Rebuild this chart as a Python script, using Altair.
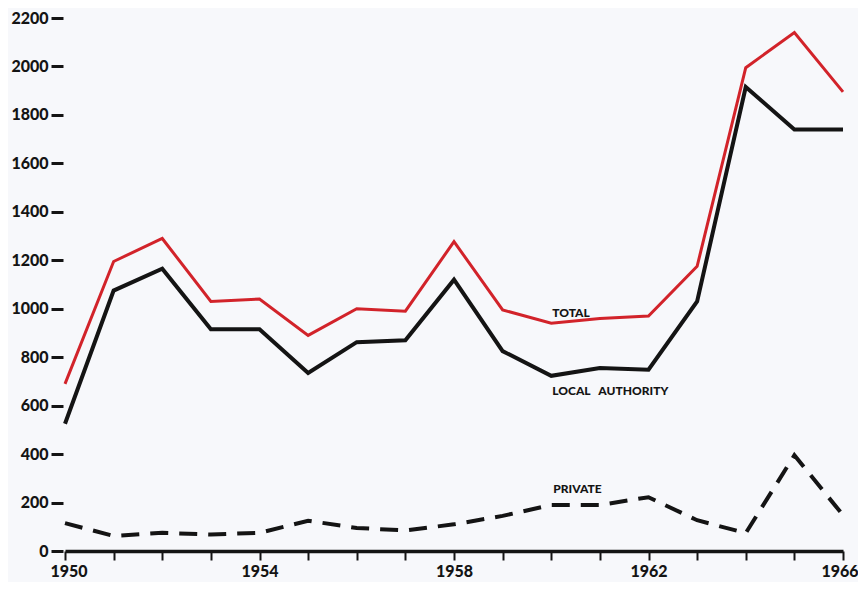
import altair as alt
import pandas as pd

years = list(range(1950, 1967))
total = [690, 1195, 1290, 1030, 1040, 890, 1000, 990, 1277, 995, 940, 960, 970, 1175, 1995, 2140, 1895]
local_authority = [525, 1075, 1165, 915, 915, 735, 862, 870, 1120, 825, 723, 755, 748, 1030, 1915, 1740, 1740]
private = [115, 62, 75, 68, 75, 125, 95, 85, 110, 145, 190, 190, 222, 127, 74, 395, 148]
y_ticks = list(range(0, 2201, 200))

df = pd.DataFrame({"year": years, "total": total, "local": local_authority, "private": private})

FONT = "Lato"
INK = "#141414"
RED = "#d2232a"

x_enc = alt.X(
    "year:Q",
    scale=alt.Scale(domain=[1950, 1966], nice=False, zero=False),
    axis=alt.Axis(
        values=years, title=None, grid=False, format="d",
        labelExpr="datum.value % 4 == 2 ? datum.label : ''",
        domainColor=INK, domainWidth=3.5, tickColor=INK, tickWidth=2, tickSize=9,
        labelFont=FONT, labelFontWeight=900, labelFontSize=16, labelPadding=3,
        labelColor=INK, labelFlush=True, labelFlushOffset=15,
    ),
)

def y_enc(field):
    return alt.Y(
        f"{field}:Q",
        scale=alt.Scale(domain=[0, 2200], nice=False),
        axis=alt.Axis(
            values=y_ticks, title=None, grid=False, domain=False, format="d",
            tickColor=INK, tickWidth=3, tickSize=12, offset=2,
            labelFont=FONT, labelFontWeight=900, labelFontSize=16, labelPadding=3,
            labelColor=INK, labelFlush=False,
        ),
    )

base = alt.Chart(df)

local_line = base.mark_line(color=INK, strokeWidth=4, strokeJoin="miter").encode(x=x_enc, y=y_enc("local"))
private_line = base.mark_line(color=INK, strokeWidth=4, strokeDash=[18, 11], strokeJoin="miter").encode(x=x_enc, y=y_enc("private"))
total_line = base.mark_line(color=RED, strokeWidth=3, strokeJoin="miter").encode(x=x_enc, y=y_enc("total"))

lab = base.transform_filter("datum.year == 1960")
txt_style = dict(font=FONT, fontWeight=900, fontSize=12, color=INK, align="left", baseline="middle")
t_total = lab.mark_text(text="TOTAL", dx=1, dy=-10, **txt_style).encode(x="year:Q", y="total:Q")
t_local = lab.mark_text(text="LOCAL\u00a0\u00a0\u00a0AUTHORITY", dx=1, dy=15, **txt_style).encode(x="year:Q", y="local:Q")
t_private = lab.mark_text(text="PRIVATE", dx=2, dy=-16, **txt_style).encode(x="year:Q", y="private:Q")

chart = alt.layer(local_line, private_line, total_line, t_total, t_local, t_private).properties(
    width=778, height=533,
    autosize=alt.AutoSizeParams(type="none"),
    padding={"left": 57, "top": 10, "right": 15, "bottom": 31},
    background="#f7f8fb",
).configure_view(stroke=None)

chart.save("out.html", embed_options={"renderer": "svg", "actions": False})
